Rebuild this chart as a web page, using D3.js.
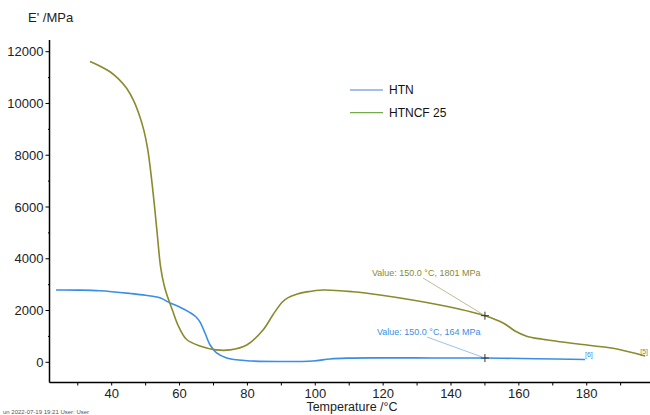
<!DOCTYPE html>
<html>
<head>
<meta charset="utf-8">
<script src="https://cdn.jsdelivr.net/npm/d3@7"></script>
<style>
body { margin: 0; background: #fff; }
svg { font-family: "Liberation Sans", Arial, sans-serif; }
</style>
</head>
<body>
<div id="graph"></div>
<script>
// HTN curve, temperature (°C) / storage modulus (MPa)
var htnT = [23.6, 30, 36.5, 45.4, 50, 54.2, 57.2, 60, 63.1, 64.8, 66, 67.5, 69, 70.9, 73.9, 79.8, 89.6, 99.3, 104.3, 109.3, 119.1, 135, 150, 165, 179.5];
var htnE = [2793, 2790, 2765, 2660, 2590, 2490, 2290, 2140, 1920, 1760, 1560, 1130, 668, 360, 166, 62, 30, 50, 127, 160, 170, 168, 164, 140, 110];

// HTNCF 25 curve
var cfT = [33.6, 36, 39.5, 42, 44.4, 46.5, 48.3, 49.5, 50.6, 51.6, 52.6, 53.5, 54.4, 55.5, 56.6, 58, 59.6, 62.1, 66, 70.8, 74.9, 79.8, 84.6, 87.5, 90.3, 92, 94.5, 97.5, 102.3, 111.1, 119.1, 136.7, 150, 155.5, 159, 162.5, 167, 178, 187.8, 197.2];
var cfE = [11620, 11480, 11226, 10950, 10585, 10100, 9488, 8950, 8250, 7250, 6050, 4850, 3700, 2950, 2480, 1980, 1420, 880, 630, 480, 480, 668, 1248, 1830, 2330, 2500, 2630, 2720, 2793, 2727, 2600, 2213, 1801, 1510, 1200, 1000, 890, 695, 540, 243];

var xTicks = [40, 60, 80, 100, 120, 140, 160, 180];
var yTicks = [0, 2000, 4000, 6000, 8000, 10000, 12000];

var seriesNames = ["HTN", "HTNCF 25"];
var markT = 150;
var markE = [164, 1801];
var endLabels = ["[6]", "[5]"];

var width = 650, height = 415;
var blue = "#3a8ee6", olive = "#8a8a2e";

var svg = d3.select("div#graph")
    .append("svg")
    .attr("width", width)
    .attr("height", height);

var x = d3.scaleLinear().domain([21.67, 198.06]).range([49.5, 648]);
var y = d3.scaleLinear().domain([0, 12000]).range([362.3, 51.7]);
var axisY0 = 382.5, axisTop = 40;

// axes
var xAxis = svg.append("g").attr("transform", "translate(0," + axisY0 + ")");
xAxis.append("line").attr("x1", 49.5).attr("x2", 650).attr("stroke", "#000").attr("stroke-width", 1.5);
xAxis.selectAll("line.minor")
    .data(d3.range(30, 200, 10))
    .enter().append("line")
    .attr("x1", function(d) {return x(d)}).attr("x2", function(d) {return x(d)})
    .attr("y1", 0).attr("y2", 3).attr("stroke", "#000");
xAxis.selectAll("text")
    .data(xTicks)
    .enter().append("text")
    .attr("x", function(d) {return x(d)})
    .attr("y", 15)
    .attr("text-anchor", "middle")
    .attr("font-size", 13)
    .attr("fill", "#222")
    .text(function(d) {return d});

var yAxis = svg.append("g").attr("transform", "translate(49.5,0)");
yAxis.append("line").attr("y1", axisTop).attr("y2", axisY0).attr("stroke", "#000").attr("stroke-width", 1.5);
yAxis.selectAll("line.minor")
    .data(d3.range(0, 12001, 1000))
    .enter().append("line")
    .attr("y1", function(d) {return y(d)}).attr("y2", function(d) {return y(d)})
    .attr("x1", function(d) {return d % 2000 == 0 ? -4 : -1.5}).attr("x2", 0).attr("stroke", "#000");
yAxis.selectAll("text")
    .data(yTicks)
    .enter().append("text")
    .attr("x", -6)
    .attr("y", function(d) {return y(d)})
    .attr("dy", "0.35em")
    .attr("text-anchor", "end")
    .attr("font-size", 13)
    .attr("fill", "#222")
    .text(function(d) {return d});

svg.append("text").attr("x", 28).attr("y", 22).attr("font-size", 13).attr("fill", "#222").text("E' /MPa");
svg.append("text").attr("x", 352).attr("y", 410.5).attr("text-anchor", "middle").attr("font-size", 12.5).attr("fill", "#222").text("Temperature /°C");
svg.append("text").attr("x", 3).attr("y", 414).attr("font-size", 6).attr("fill", "#555").text("un   2022-07-19 19:21   User: User");

// curves
var line = d3.line()
    .x(function(d) {return x(d[0])})
    .y(function(d) {return y(d[1])})
    .curve(d3.curveCatmullRom.alpha(0.5));

var series = [d3.zip(htnT, htnE), d3.zip(cfT, cfE)];
var colors = [blue, olive];

svg.selectAll("path.curve")
    .data(series)
    .enter().append("path")
    .attr("class", "curve")
    .attr("d", line)
    .attr("fill", "none")
    .attr("stroke", function(d, i) {return colors[i]})
    .attr("stroke-width", 1.6);

// end labels
svg.selectAll("text.end")
    .data(series)
    .enter().append("text")
    .attr("class", "end")
    .attr("x", function(d, i) {return i == 0 ? x(d[d.length - 1][0]) : 648})
    .attr("y", function(d) {return y(d[d.length - 1][1]) - 2})
    .attr("text-anchor", function(d, i) {return i == 0 ? "start" : "end"})
    .attr("font-size", 7)
    .attr("fill", function(d, i) {return colors[i]})
    .text(function(d, i) {return endLabels[i]});

// value annotations
var annot = [
    {text: "Value: 150.0 °C, " + markE[0] + " MPa", tx: 377, ty: 335, lx: 427, ly: 337, color: blue, lineColor: "#9cc3ee"},
    {text: "Value: 150.0 °C, " + markE[1] + " MPa", tx: 372, ty: 276, lx: 423, ly: 278, color: olive, lineColor: "#bdbd9c"}
];
annot.forEach(function(a, i) {
    var px = x(markT), py = y(markE[i]);
    svg.append("line").attr("x1", a.lx).attr("y1", a.ly).attr("x2", px).attr("y2", py)
        .attr("stroke", a.lineColor).attr("stroke-width", 1);
    svg.append("text").attr("x", a.tx).attr("y", a.ty).attr("font-size", 9).attr("fill", a.color).text(a.text);
    svg.append("path").attr("d", "M" + (px - 4) + "," + py + "H" + (px + 4) + "M" + px + "," + (py - 4) + "V" + (py + 4))
        .attr("stroke", "#333").attr("stroke-width", 1);
});

// legend
var legendColors = ["#4a7fdc", "#70ad47"];
var legend = svg.selectAll("g.legend")
    .data(seriesNames)
    .enter().append("g")
    .attr("class", "legend")
    .attr("transform", function(d, i) {return "translate(350," + (90 + i * 22.7) + ")"});
legend.append("line").attr("x1", 0).attr("x2", 33).attr("stroke", function(d, i) {return legendColors[i]}).attr("stroke-width", 1.2);
legend.append("text").attr("x", 39).attr("dy", "0.35em").attr("font-size", 12).attr("fill", "#111").text(function(d) {return d});
</script>
</body>
</html>
